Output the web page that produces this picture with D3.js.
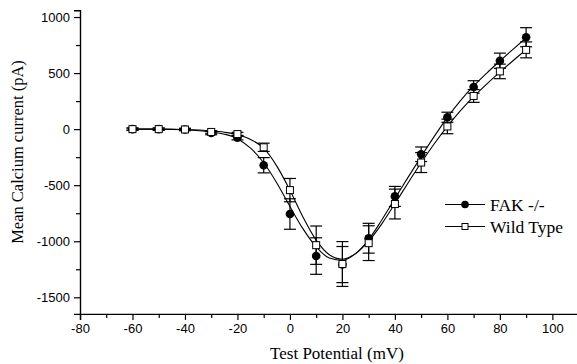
<!DOCTYPE html>
<html><head><meta charset="utf-8">
<script src="https://cdn.jsdelivr.net/npm/d3@7"></script>
<style>
body{margin:0;background:#fff;}
svg{display:block;}
</style></head>
<body>
<svg id="chart" width="577" height="364"></svg>
<script>
// ---- data ----
const voltages = [-60,-50,-40,-30,-20,-10,0,10,20,30,40,50,60,70,80,90];
const fakValues = [0,0,-3,-35,-76,-322,-757,-1132,-1208,-973,-600,-224,106,376,610,820];
const fakErrors = [10,10,10,15,20,68,136,163,161,133,89,65,45,56,68,85];
const wtValues = [0,0,-3,-25,-44,-162,-544,-1035,-1203,-1017,-668,-298,24,296,515,707];
const wtErrors = [10,10,10,12,15,37,104,171,200,155,133,89,65,57,65,71];
// fitted curves
const fitV = [-60,-50,-40,-30,-25,-20,-15,-10,-5,0,5,10,15,20,25,30,35,40,45,50,55,60,65,70,75,80,85,90];
const fakFit = [0,0,-5,-25,-45,-85,-170,-300,-480,-690,-890,-1050,-1150,-1170,-1110,-985,-810,-620,-430,-245,-65,105,255,385,500,608,712,815];
const wtFit = [0,0,-3,-15,-28,-50,-92,-170,-330,-545,-785,-990,-1120,-1160,-1110,-1000,-845,-665,-480,-300,-130,25,165,290,402,508,610,708];
const xTicks = [-80,-60,-40,-20,0,20,40,60,80,100];
const yTicks = [-1500,-1000,-500,0,500,1000];
const seriesNames = ["FAK -/-","Wild Type"];

const svg = d3.select("#chart");
const x = d3.scaleLinear().domain([-80,110]).range([80,578.6]);
const y = d3.scaleLinear().domain([-1648,1060]).range([313.9,10.3]);

const g = svg.append("g");
const fmt = d => String(d);

// axes
const xAxis = d3.axisBottom(x).tickValues(xTicks).tickSize(6).tickPadding(4).tickFormat(fmt);
const xMinor = d3.axisBottom(x).tickValues(d3.range(-70,111,20)).tickSize(4).tickFormat("");
const yAxis = d3.axisLeft(y).tickValues(yTicks).tickSize(6).tickPadding(4).tickFormat(fmt);
const yMinor = d3.axisLeft(y).tickValues(d3.range(-1250,1001,500)).tickSize(4).tickFormat("");

function styleAxis(sel){
  sel.select(".domain").attr("stroke","#000").attr("stroke-width",1.4);
  sel.selectAll(".tick line").attr("stroke","#000").attr("stroke-width",1.2);
  sel.selectAll(".tick text").attr("fill","#000").style("font-family","'Liberation Sans', Arial, sans-serif").style("font-size","13px");
}
const gx = g.append("g").attr("transform","translate(0,313.9)").call(xAxis); styleAxis(gx);
const gxm = g.append("g").attr("transform","translate(0,313.9)").call(xMinor); styleAxis(gxm); gxm.select(".domain").remove();
const gy = g.append("g").attr("transform","translate(80,0)").call(yAxis); styleAxis(gy);
const gym = g.append("g").attr("transform","translate(80,0)").call(yMinor); styleAxis(gym); gym.select(".domain").remove();

// axis titles
svg.append("text").attr("x",337).attr("y",359).attr("text-anchor","middle")
  .style("font-family","'Liberation Serif', 'Times New Roman', serif").style("font-size","17px")
  .text("Test Potential (mV)");
svg.append("text").attr("transform","translate(23,152) rotate(-90)").attr("text-anchor","middle")
  .style("font-family","'Liberation Serif', 'Times New Roman', serif").style("font-size","16.5px")
  .text("Mean Calcium current (pA)");

// fit lines
const line = d3.line().x(d=>x(d[0])).y(d=>y(d[1])).curve(d3.curveMonotoneX);
[fakFit, wtFit].forEach(fit=>{
  g.append("path").datum(fitV.map((v,i)=>[v,fit[i]])).attr("d",line)
    .attr("fill","none").attr("stroke","#000").attr("stroke-width",1.1);
});

// error bars
function errBars(vals, errs){
  const eg = g.append("g").attr("stroke","#000").attr("stroke-width",1.2);
  voltages.forEach((v,i)=>{
    const cx = x(v), y1 = y(vals[i]+errs[i]), y2 = y(vals[i]-errs[i]);
    eg.append("line").attr("x1",cx).attr("x2",cx).attr("y1",y1).attr("y2",y2);
    eg.append("line").attr("x1",cx-6).attr("x2",cx+6).attr("y1",y1).attr("y2",y1);
    eg.append("line").attr("x1",cx-6).attr("x2",cx+6).attr("y1",y2).attr("y2",y2);
  });
}
errBars(fakValues, fakErrors);
errBars(wtValues, wtErrors);

// markers
g.append("g").selectAll("circle").data(voltages).join("circle")
  .attr("cx",(d)=>x(d)).attr("cy",(d,i)=>y(fakValues[i])).attr("r",4.3).attr("fill","#000");
g.append("g").selectAll("rect").data(voltages).join("rect")
  .attr("x",(d)=>x(d)-3.5).attr("y",(d,i)=>y(wtValues[i])-3.5).attr("width",7).attr("height",7)
  .attr("fill","#fff").attr("stroke","#000").attr("stroke-width",1);

// legend
const lg = svg.append("g");
const legY = [204.5, 226.5];
seriesNames.forEach((name,i)=>{
  lg.append("line").attr("x1",445).attr("x2",485).attr("y1",legY[i]).attr("y2",legY[i]).attr("stroke","#000").attr("stroke-width",1.1);
  if(i===0){
    lg.append("circle").attr("cx",465).attr("cy",legY[i]).attr("r",3.8).attr("fill","#000");
  } else {
    lg.append("rect").attr("x",462).attr("y",legY[i]-3).attr("width",6).attr("height",6).attr("fill","#fff").attr("stroke","#000");
  }
  lg.append("text").attr("x",490).attr("y",legY[i]+6)
    .style("font-family","'Liberation Serif', 'Times New Roman', serif").style("font-size","17.5px")
    .text(name);
});
</script>
</body></html>
